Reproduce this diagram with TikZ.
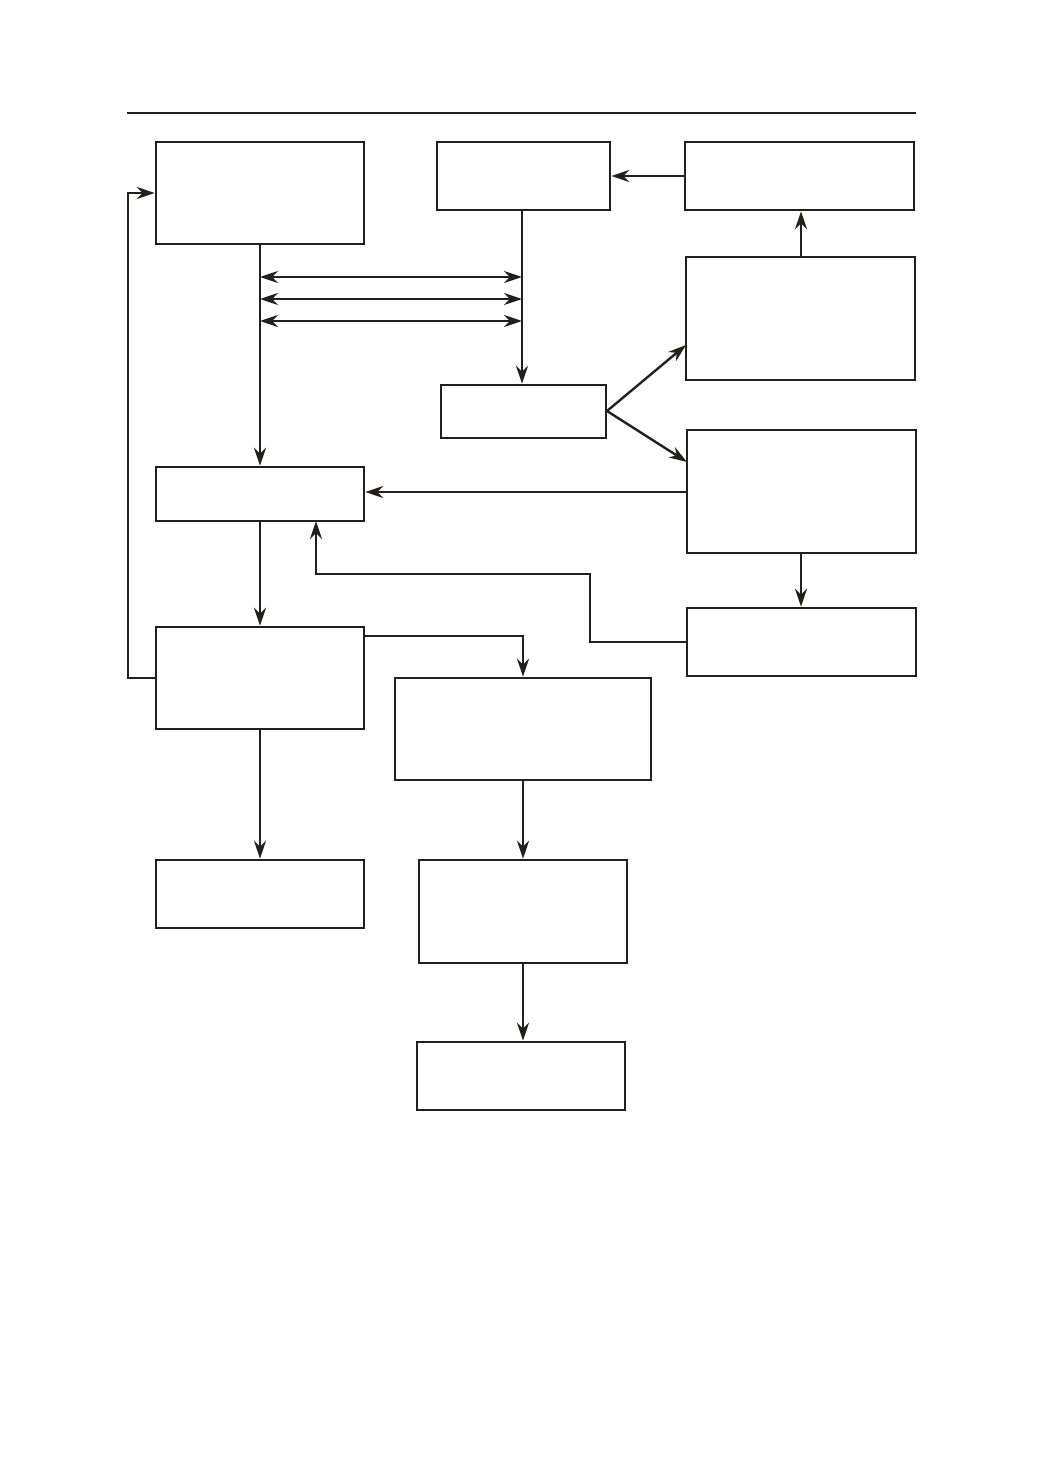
\documentclass[tikz,border=0pt]{standalone}
\usetikzlibrary{arrows.meta}
\definecolor{ink}{RGB}{35,31,26}
\begin{document}
\begin{tikzpicture}[x=1pt,y=-1pt,
  box/.style={draw=ink,line width=2.6pt,inner sep=0pt,fill=none},
  arr/.style={draw=ink,line width=2.4pt,-{Stealth[length=18pt,width=12pt]}},
  darr/.style={draw=ink,line width=2.4pt,{Stealth[length=18pt,width=12pt]}-{Stealth[length=18pt,width=12pt]}},
  ln/.style={draw=ink,line width=2.4pt}]
\useasboundingbox (0,0) rectangle (1037,1474);
\draw[ink,line width=2.6pt] (127,113) -- (916,113);
\node[box,minimum width=208pt,minimum height=102pt] (A) at (260,193) {};
\node[box,minimum width=173pt,minimum height=68pt] (B) at (523.5,176) {};
\node[box,minimum width=229pt,minimum height=68pt] (C) at (799.5,176) {};
\node[box,minimum width=229pt,minimum height=123pt] (D) at (800.5,318.5) {};
\node[box,minimum width=165pt,minimum height=53pt] (E) at (523.5,411.5) {};
\node[box,minimum width=229pt,minimum height=123pt] (F) at (801.5,491.5) {};
\node[box,minimum width=208pt,minimum height=54pt] (G) at (260,494) {};
\node[box,minimum width=208pt,minimum height=102pt] (H) at (260,678) {};
\node[box,minimum width=229pt,minimum height=68pt] (I) at (801.5,642) {};
\node[box,minimum width=256pt,minimum height=102pt] (J) at (523,729) {};
\node[box,minimum width=208pt,minimum height=68pt] (K) at (260,894) {};
\node[box,minimum width=208pt,minimum height=103pt] (L) at (523,911.5) {};
\node[box,minimum width=208pt,minimum height=68pt] (M) at (521,1076) {};
\coordinate (p1) at (260,277); \coordinate (q1) at (522,277);
\coordinate (p2) at (260,299); \coordinate (q2) at (522,299);
\coordinate (p3) at (260,321); \coordinate (q3) at (522,321);
\coordinate (d1) at (686,345);
\coordinate (f1) at (687,462);
\coordinate (e1) at (607,411);
\coordinate (g1) at (316,521);
\coordinate (h1) at (364,636);
\coordinate (ib) at (590,574);
\coordinate (al) at (128,678);
\coordinate (bs) at (522,210);
\coordinate (dn) at (801,257);
\coordinate (fw) at (687,492);
\coordinate (fs) at (801,553);
\draw[arr] (C.west) -- (B.east);
\draw[arr] (dn) -- (dn |- C.south);
\draw[arr] (A.south) -- (G.north);
\draw[arr] (bs) -- (bs |- E.north);
\draw[darr] (p1) -- (q1);
\draw[darr] (p2) -- (q2);
\draw[darr] (p3) -- (q3);
\draw[arr] (e1) -- (d1);
\draw[arr] (e1) -- (f1);
\draw[arr] (fw) -- (fw -| G.east);
\draw[arr] (fs) -- (fs |- I.north);
\draw[arr] (I.west) -| (ib) -| (g1);
\draw[arr] (G.south) -- (H.north);
\draw[arr] (h1) -| (J.north);
\draw[arr] (H.west) -- (al) |- (A.west);
\draw[arr] (H.south) -- (K.north);
\draw[arr] (J.south) -- (L.north);
\draw[arr] (L.south) -- (L.south |- M.north);
\end{tikzpicture}
\end{document}
